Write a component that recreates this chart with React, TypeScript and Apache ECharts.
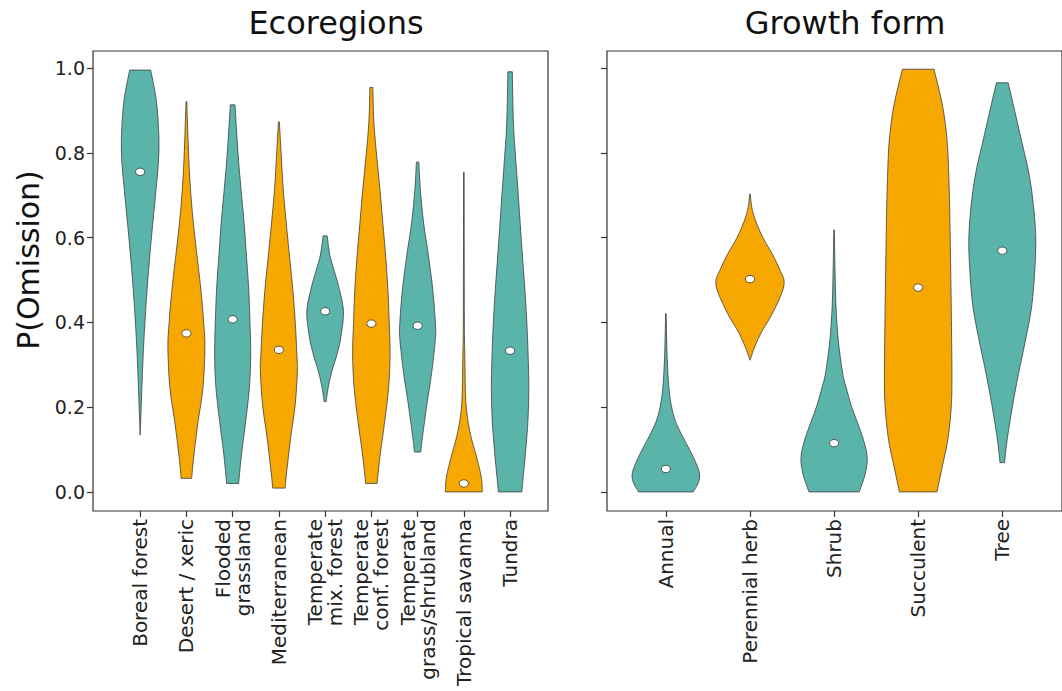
import React, { useEffect, useRef } from "react";
import * as echarts from "echarts";

// ---------- data ----------
const ecoregions = [
  "Boreal forest",
  "Desert / xeric",
  "Flooded\ngrassland",
  "Mediterranean",
  "Temperate\nmix. forest",
  "Temperate\nconf. forest",
  "Temperate\ngrass/shrubland",
  "Tropical savanna",
  "Tundra",
];
const growthForms = ["Annual", "Perennial herb", "Shrub", "Succulent", "Tree"];
const yTicks = [0, 0.2, 0.4, 0.6, 0.8, 1.0];

const ecoMedians = [0.755, 0.374, 0.407, 0.335, 0.426, 0.397, 0.392, 0.02, 0.333];
const growthMedians = [0.054, 0.502, 0.115, 0.482, 0.569];

// violin profiles: [P(Omission), half-width in category units]
const borealForest = [
  [0.995, 0.227], [0.952, 0.307], [0.913, 0.361], [0.86, 0.396], [0.818, 0.407],
  [0.77, 0.39], [0.716, 0.346], [0.638, 0.277], [0.559, 0.21], [0.48, 0.152],
  [0.402, 0.104], [0.323, 0.065], [0.245, 0.037], [0.166, 0.011], [0.134, 0.0],
];
const desertXeric = [
  [0.921, 0.008], [0.795, 0.048], [0.716, 0.087], [0.638, 0.147], [0.559, 0.227],
  [0.48, 0.31], [0.402, 0.372], [0.339, 0.4], [0.245, 0.357], [0.166, 0.253],
  [0.087, 0.162], [0.032, 0.113],
];
const floodedGrassland = [
  [0.913, 0.05], [0.795, 0.119], [0.716, 0.18], [0.638, 0.245], [0.559, 0.297],
  [0.48, 0.346], [0.402, 0.374], [0.323, 0.39], [0.245, 0.361], [0.166, 0.281],
  [0.087, 0.19], [0.02, 0.13],
];
const mediterranean = [
  [0.873, 0.01], [0.795, 0.05], [0.716, 0.093], [0.638, 0.156], [0.559, 0.227],
  [0.48, 0.299], [0.402, 0.353], [0.323, 0.39], [0.283, 0.4], [0.204, 0.351],
  [0.126, 0.253], [0.048, 0.169], [0.009, 0.134],
];
const temperateMixForest = [
  [0.604, 0.043], [0.559, 0.102], [0.52, 0.201], [0.48, 0.303], [0.425, 0.396],
  [0.362, 0.335], [0.323, 0.253], [0.284, 0.145], [0.245, 0.065], [0.213, 0.022],
];
const temperateConfForest = [
  [0.954, 0.032], [0.873, 0.054], [0.795, 0.113], [0.716, 0.184], [0.638, 0.245],
  [0.559, 0.307], [0.48, 0.357], [0.402, 0.385], [0.323, 0.405], [0.245, 0.372],
  [0.166, 0.288], [0.087, 0.19], [0.02, 0.123],
];
const temperateGrassShrubland = [
  [0.778, 0.026], [0.716, 0.058], [0.638, 0.126], [0.559, 0.232], [0.48, 0.325],
  [0.402, 0.383], [0.362, 0.385], [0.284, 0.307], [0.205, 0.199], [0.127, 0.102],
  [0.094, 0.069],
];
const tropicalSavanna = [
  [0.754, 0.006], [0.402, 0.011], [0.323, 0.022], [0.245, 0.032], [0.205, 0.048],
  [0.166, 0.091], [0.127, 0.162], [0.087, 0.264], [0.048, 0.353], [0.024, 0.39],
  [0.0, 0.4],
];
const tundra = [
  [0.991, 0.048], [0.873, 0.071], [0.795, 0.115], [0.716, 0.167], [0.638, 0.216],
  [0.559, 0.266], [0.48, 0.318], [0.402, 0.361], [0.323, 0.39], [0.245, 0.405],
  [0.166, 0.385], [0.087, 0.329], [0.04, 0.288], [0.0, 0.253],
];

const annual = [
  [0.421, 0.003], [0.32, 0.015], [0.25, 0.035], [0.205, 0.064], [0.166, 0.116],
  [0.127, 0.209], [0.087, 0.314], [0.048, 0.395], [0.024, 0.39], [0.0, 0.326],
];
const perennialHerb = [
  [0.703, 0.003], [0.67, 0.023], [0.638, 0.07], [0.598, 0.159], [0.559, 0.271],
  [0.52, 0.364], [0.498, 0.405], [0.47, 0.38], [0.417, 0.256], [0.378, 0.14],
  [0.339, 0.05], [0.311, 0.003],
];
const shrub = [
  [0.618, 0.003], [0.516, 0.012], [0.437, 0.023], [0.358, 0.05], [0.28, 0.102],
  [0.241, 0.151], [0.201, 0.209], [0.162, 0.281], [0.123, 0.349], [0.083, 0.393],
  [0.044, 0.372], [0.0, 0.299],
];
const succulent = [
  [0.997, 0.188], [0.909, 0.291], [0.83, 0.343], [0.752, 0.363], [0.673, 0.374],
  [0.594, 0.381], [0.437, 0.393], [0.28, 0.401], [0.201, 0.393], [0.123, 0.352],
  [0.06, 0.287], [0.0, 0.223],
];
const tree = [
  [0.965, 0.07], [0.909, 0.136], [0.83, 0.227], [0.752, 0.316], [0.673, 0.372],
  [0.594, 0.398], [0.516, 0.384], [0.437, 0.349], [0.358, 0.276], [0.28, 0.194],
  [0.201, 0.12], [0.123, 0.058], [0.069, 0.027],
];

const ecoProfiles = [
  borealForest, desertXeric, floodedGrassland, mediterranean, temperateMixForest,
  temperateConfForest, temperateGrassShrubland, tropicalSavanna, tundra,
];
const growthProfiles = [annual, perennialHerb, shrub, succulent, tree];

// ---------- style ----------
const TEAL = "#5ab4a9";
const ORANGE = "#f7a800";
const ecoColors = [TEAL, ORANGE, TEAL, ORANGE, TEAL, ORANGE, TEAL, ORANGE, TEAL];
const growthColors = [TEAL, ORANGE, TEAL, ORANGE, TEAL];
const FONT = "DejaVu Sans";

// smooth rendering of a (y, w) profile (Catmull-Rom, drawing only)
function smoothProfile(pts: number[][], seg = 10): number[][] {
  const out: number[][] = [];
  const n = pts.length;
  for (let i = 0; i < n - 1; i++) {
    const p0 = pts[Math.max(0, i - 1)];
    const p1 = pts[i];
    const p2 = pts[i + 1];
    const p3 = pts[Math.min(n - 1, i + 2)];
    for (let s = 0; s < seg; s++) {
      const t = s / seg;
      const t2 = t * t;
      const t3 = t2 * t;
      const f = (k: number) =>
        0.5 *
        (2 * p1[k] +
          (-p0[k] + p2[k]) * t +
          (2 * p0[k] - 5 * p1[k] + 4 * p2[k] - p3[k]) * t2 +
          (-p0[k] + 3 * p1[k] - 3 * p2[k] + p3[k]) * t3);
      out.push([f(0), Math.max(0, f(1))]);
    }
  }
  out.push(pts[n - 1]);
  return out;
}

function makeRenderItem(profiles: number[][][], colors: string[]) {
  return (params: any, api: any) => {
    const i = params.dataIndex;
    const cx = api.value(0);
    const med = api.value(1);
    const prof = profiles[i].slice().sort((a, b) => a[0] - b[0]);
    const sm = smoothProfile(prof);
    const left = sm.map(([y, w]) => api.coord([cx - w, y]));
    const right = sm
      .slice()
      .reverse()
      .map(([y, w]) => api.coord([cx + w, y]));
    const m = api.coord([cx, med]);
    return {
      type: "group",
      children: [
        {
          type: "polygon",
          shape: { points: left.concat(right) },
          style: { fill: colors[i], stroke: "#3c3c3c", lineWidth: 0.8 },
        },
        {
          type: "ellipse",
          shape: { cx: m[0], cy: m[1], rx: 4.6, ry: 3.7 },
          style: { fill: "#ffffff", stroke: "#333333", lineWidth: 0.8 },
        },
      ],
    };
  };
}

export default function App() {
  const ref = useRef<HTMLDivElement>(null);

  useEffect(() => {
    if (!ref.current) return;
    const chart = echarts.init(ref.current, undefined, { renderer: "svg" });

    const gridCommon = {
      show: true,
      borderColor: "#333333",
      borderWidth: 1.2,
      backgroundColor: "transparent",
      containLabel: false,
    };
    const tickStyle = { show: true, length: 6, inside: false, lineStyle: { color: "#333333", width: 1.2 } };
    const labelStyle = { color: "#222222", fontSize: 20, fontFamily: FONT };
    const hiddenLine = { show: false, onZero: false };

    const ecoIdx = ecoregions.map((_, i) => i);
    const growIdx = growthForms.map((_, i) => i);

    chart.setOption({
      animation: false,
      backgroundColor: "#ffffff",
      grid: [
        { ...gridCommon, left: 93, top: 51, width: 455, height: 460 },
        { ...gridCommon, left: 607, top: 51, width: 465, height: 460 },
      ],
      xAxis: [
        {
          type: "value",
          gridIndex: 0,
          position: "bottom",
          min: -1.02,
          max: 8.82,
          splitLine: { show: false },
          axisLine: hiddenLine,
          axisTick: { ...tickStyle, customValues: ecoIdx },
          axisLabel: {
            ...labelStyle,
            customValues: ecoIdx,
            rotate: 90,
            margin: 8,
            formatter: (v: number) => ecoregions[Math.round(v)],
          },
        },
        {
          type: "value",
          gridIndex: 1,
          position: "bottom",
          min: -0.7,
          max: 4.71,
          splitLine: { show: false },
          axisLine: hiddenLine,
          axisTick: { ...tickStyle, customValues: growIdx },
          axisLabel: {
            ...labelStyle,
            customValues: growIdx,
            rotate: 90,
            margin: 8,
            formatter: (v: number) => growthForms[Math.round(v)],
          },
        },
      ],
      yAxis: [
        {
          type: "value",
          gridIndex: 0,
          position: "left",
          min: -0.045,
          max: 1.04,
          splitLine: { show: false },
          axisLine: hiddenLine,
          axisTick: { ...tickStyle, customValues: yTicks },
          axisLabel: {
            ...labelStyle,
            fontSize: 19,
            customValues: yTicks,
            margin: 8,
            formatter: (v: number) => v.toFixed(1),
          },
        },
        {
          type: "value",
          gridIndex: 1,
          position: "left",
          min: -0.045,
          max: 1.04,
          splitLine: { show: false },
          axisLine: hiddenLine,
          axisTick: { ...tickStyle, customValues: yTicks },
          axisLabel: { show: false },
        },
      ],
      series: [
        {
          type: "custom",
          name: "Ecoregions",
          xAxisIndex: 0,
          yAxisIndex: 0,
          renderItem: makeRenderItem(ecoProfiles, ecoColors),
          data: ecoMedians.map((m, i) => [i, m]),
          encode: { x: 0, y: 1 },
          clip: false,
        },
        {
          type: "custom",
          name: "Growth form",
          xAxisIndex: 1,
          yAxisIndex: 1,
          renderItem: makeRenderItem(growthProfiles, growthColors),
          data: growthMedians.map((m, i) => [i, m]),
          encode: { x: 0, y: 1 },
          clip: false,
        },
      ],
      graphic: [
        {
          type: "text",
          x: 336,
          y: 7,
          style: {
            text: "Ecoregions",
            font: `32px '${FONT}'`,
            fill: "#111111",
            textAlign: "center",
            textVerticalAlign: "top",
          },
        },
        {
          type: "text",
          x: 845,
          y: 7,
          style: {
            text: "Growth form",
            font: `32px '${FONT}'`,
            fill: "#111111",
            textAlign: "center",
            textVerticalAlign: "top",
          },
        },
        {
          type: "text",
          x: 28,
          y: 260,
          rotation: Math.PI / 2,
          style: {
            text: "P(Omission)",
            font: `30px '${FONT}'`,
            fill: "#111111",
            textAlign: "center",
            textVerticalAlign: "middle",
          },
        },
      ],
    });

    return () => {
      chart.dispose();
    };
  }, []);

  return (
    <div
      ref={ref}
      style={{ position: "absolute", left: 0, top: 0, width: 1062, height: 691, overflow: "hidden" }}
    />
  );
}
